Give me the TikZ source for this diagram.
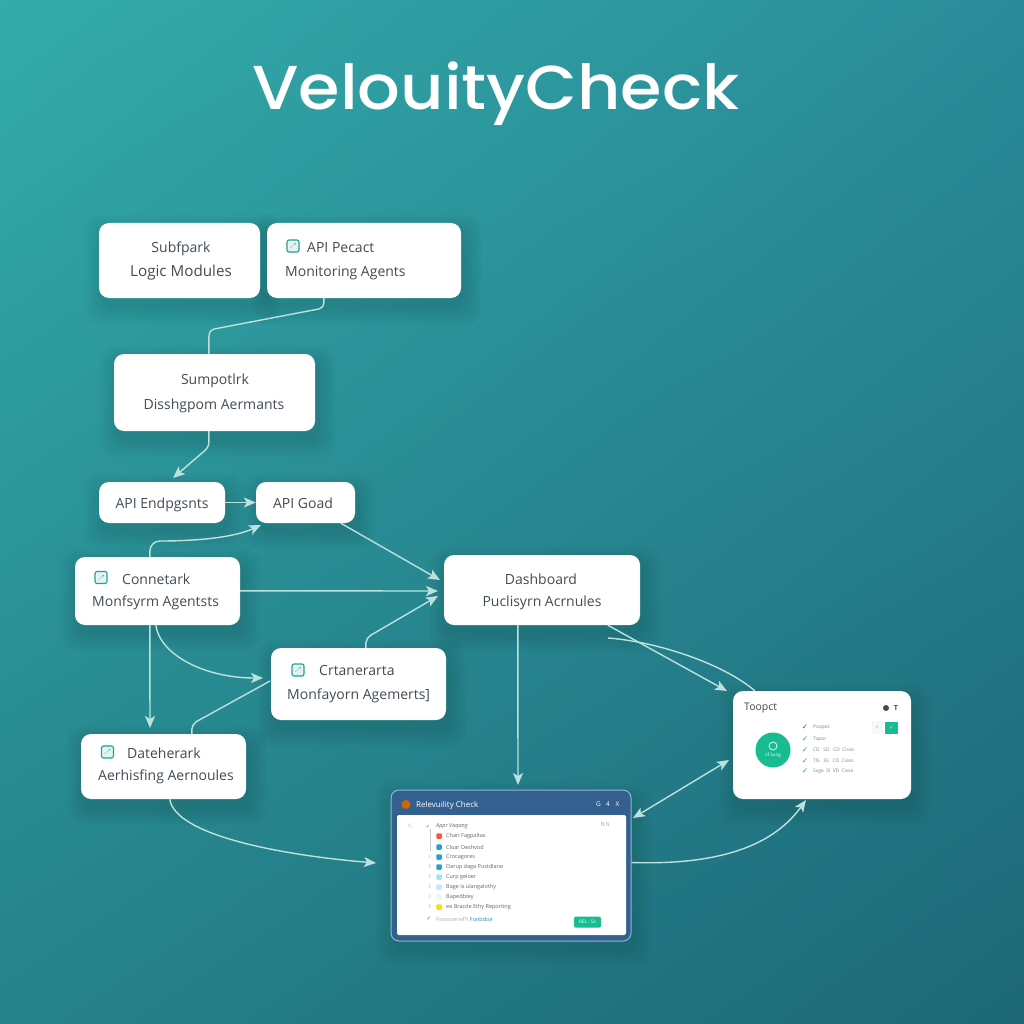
\documentclass[tikz,border=0pt]{standalone}
\usepackage{fontspec}
\setmainfont{Open Sans}
\newfontfamily\titlefont{Poppins}[UprightFont=* Medium]
\newfontfamily\dejavu{DejaVu Sans}
\newcommand{\ckm}{{\dejavu ✓}}
\usetikzlibrary{arrows.meta,calc,shadings}
\definecolor{linec}{HTML}{BDE2DE}
\definecolor{ink}{HTML}{414C56}
\definecolor{tealicon}{HTML}{22A096}
\definecolor{greenb}{HTML}{17BC90}
\definecolor{winblue}{HTML}{33608F}
\definecolor{winedge}{HTML}{8FB9CC}
\definecolor{bgul}{HTML}{33ABAA}
\definecolor{bgur}{HTML}{2A8C99}
\definecolor{bgll}{HTML}{25828B}
\definecolor{bglr}{HTML}{1D6777}
\tikzset{
  cardbox/.style={fill=white,rounded corners=10pt,inner sep=0pt},
  lbl/.style={text=ink,font=\fontsize{14}{16}\selectfont,inner sep=0pt,text height=10.5pt,text depth=3pt,yshift=-2pt},
  conn/.style={draw=linec,line width=1.4pt,rounded corners=5pt},
  arr/.style={conn,-{Stealth[length=12pt,width=10pt,inset=3pt]}},
  rowtxt/.style={text=ink!85,font=\fontsize{5.5}{6}\selectfont,inner sep=0pt,anchor=west},
  rowdot/.style={inner sep=0pt,minimum size=5.5pt,rounded corners=1.2pt},
  icobox/.style={draw=tealicon,fill=tealicon!12,line width=1.1pt,rounded corners=2pt,minimum size=12pt,inner sep=0pt,
    text=tealicon,font=\fontsize{6}{6}\selectfont}
}
\newcommand{\cardshadow}[4]{%
  \foreach \e in {16,13,10,7,4,1}{
    \fill[black!70!teal,opacity=0.024,rounded corners=14pt]
      (#1-\e+2,#2-\e+8) rectangle (#3+\e+4,#4+\e+10);
  }}
\newcommand{\mkcard}[5]{%
  \pgfmathsetmacro\cx{(#2+#4)/2}\pgfmathsetmacro\cy{(#3+#5)/2}
  \pgfmathsetmacro\cw{#4-#2}\pgfmathsetmacro\ch{#5-#3}
  \node[cardbox,minimum width=\cw pt,minimum height=\ch pt] (#1) at (\cx,\cy) {};}
\begin{document}
\begin{tikzpicture}[x=1pt,y=-1pt]
\useasboundingbox (0,0) rectangle (1024,1024);
\shade[upper left=bgul,upper right=bgur,lower left=bgll,lower right=bglr] (0,0) rectangle (1024,1024);
\node[text=white,font=\titlefont\fontsize{62}{64}\selectfont,inner sep=0pt,transform shape,xscale=1.08,anchor=base] (title) at (496,110) {VelouityCheck};

% shadows
\cardshadow{99}{223}{260}{298}
\cardshadow{267}{223}{461}{298}
\cardshadow{114}{354}{315}{431}
\cardshadow{99}{482}{225}{523}
\cardshadow{256}{482}{355}{523}
\cardshadow{75}{557}{240}{625}
\cardshadow{271}{648}{446}{720}
\cardshadow{81}{734}{246}{799}
\cardshadow{444}{555}{640}{625}
\cardshadow{733}{691}{911}{799}
\cardshadow{391}{790}{631}{940}

% cards
\mkcard{sub}{99}{223}{260}{298}
\mkcard{api}{267}{223}{461}{298}
\mkcard{sum}{114}{354}{315}{431}
\mkcard{end}{99}{482}{225}{523}
\mkcard{goad}{256}{482}{355}{523}
\mkcard{con}{75}{557}{240}{625}
\mkcard{cra}{271}{648}{446}{720}
\mkcard{dat}{81}{734}{246}{799}
\mkcard{das}{444}{555}{640}{625}
\mkcard{top}{733}{691}{911}{799}
\node[fill=winblue,draw=winedge,line width=1pt,rounded corners=8pt,minimum width=240pt,minimum height=151pt,inner sep=0pt] (win) at (511,865.5) {};
\node[fill=white,rounded corners=2pt,minimum width=229pt,minimum height=120pt,inner sep=0pt] (winbody) at (511.5,875) {};

% connectors
\draw[conn] ([xshift=57pt]api.south west) -- (324,308) -- (209,330) -- ([xshift=95pt]sum.north west);
\draw[arr] ([xshift=95pt]sum.south west) -- (209,447) -- (173,478);
\draw[arr] (end.east) -- (goad.west);
\draw[arr,rounded corners=10pt] ([xshift=75pt]con.north west) -- (150,541) .. controls (200,541) and (235,537) .. (261,525);
\draw[arr] ([xshift=85pt]goad.south west) -- (440,580);
\draw[arr] ([yshift=-34pt]con.north east) -- (438,591);
\draw[arr] ([xshift=95pt]cra.north west) -- (366,638) -- (438,596);
\draw[arr] ([xshift=75pt]con.south west) -- (150,728);
\draw[arr] ([xshift=81pt]con.south west) .. controls (160,655) and (205,678) .. (263,678);
\draw[conn] ([xshift=111pt]dat.north west) -- (192,724) -- (270,681);
\draw[arr] ([xshift=89pt]dat.south west) .. controls (175,835) and (280,855) .. (376,863);
\draw[arr] ([xshift=74pt]das.south west) -- (518,785);
\draw[arr] ([xshift=164pt]das.south west) -- (727,691);
\draw[conn] (608,638) .. controls (660,642) and (725,665) .. ([xshift=22pt]top.north west);
\draw[conn,{Stealth[length=12pt,width=10pt,inset=3pt]}-{Stealth[length=12pt,width=10pt,inset=3pt]}] (633,818) -- (729,760);
\draw[arr] ([yshift=-73pt]win.north east) .. controls (710,865) and (770,850) .. (806,800);

% card labels
\node[lbl] (t1a) at (181,247) {Subfpark};
\node[lbl,font=\fontsize{15.2}{16}\selectfont] (t1b) at (181,271) {Logic Modules};
\node[icobox] (i2) at (293,246) {$\nearrow$};
\node[lbl,anchor=west] (t2a) at (307,247) {API Pecact};
\node[lbl,anchor=west] (t2b) at (285,271) {Monitoring Agents};
\node[lbl] (t3a) at (215,379) {Sumpotlrk};
\node[lbl] (t3b) at (214,404) {Disshgpom Aermants};
\node[lbl] (t4) at (162,503) {API Endpgsnts};
\node[lbl] (t5) at (303,503) {API Goad};
\node[icobox] (i6) at (101,577.5) {$\nearrow$};
\node[lbl,anchor=west] (t6a) at (122,579) {Connetark};
\node[lbl,anchor=west] (t6b) at (92,601) {Monfsyrm Agentsts};
\node[icobox] (i7) at (298,670) {$\nearrow$};
\node[lbl,anchor=west] (t7a) at (319,670) {Crtanerarta};
\node[lbl,anchor=west] (t7b) at (287,694) {Monfayorn Agemerts]};
\node[icobox] (i8) at (107.5,752) {$\nearrow$};
\node[lbl,anchor=west] (t8a) at (127,753) {Dateherark};
\node[lbl,anchor=west] (t8b) at (98,775) {Aerhisfing Aernoules};
\node[lbl] (t9a) at (541,579) {Dashboard};
\node[lbl] (t9b) at (542,601) {Puclisyrn Acrnules};

% status panel
\node[text=ink,font=\fontsize{10.5}{11}\selectfont,inner sep=0pt,anchor=west] (tt) at (744,708) {Toopct};
\node[circle,fill=ink,minimum size=6pt,inner sep=0pt] (tc1) at (886,708) {};
\node[text=ink,font=\fontsize{7}{7}\selectfont\bfseries,inner sep=0pt] (tc2) at (896,708) {T};
\node[circle,fill=greenb,minimum size=35pt,inner sep=0pt] (tg) at (773,750) {};
\node[circle,draw=white,line width=.7pt,minimum size=8pt,inner sep=0pt] (tgi) at (773,746) {};
\node[text=white,font=\fontsize{4.5}{5}\selectfont,inner sep=0pt] (tgt) at (773,755) {vf.Sung};
\node[draw=ink!15,fill=ink!4,rounded corners=1pt,minimum width=11pt,minimum height=11pt,inner sep=0pt,text=ink!50,font=\fontsize{4}{4}\selectfont] (tb1) at (877.5,727.5) {E};
\node[fill=greenb,minimum width=13pt,minimum height=12pt,inner sep=0pt,text=white,font=\fontsize{5}{5}\selectfont] (tb2) at (891.5,727.5) {\ckm};
\foreach \yy/\rowt/\rowc in {727/Poopot/ink,739/Topor/tealicon,750/CD\ \ \ SD\ \ \ CD\ \ Cisso/tealicon,761/TIS\ \ \ SS\ \ \ CD\ \ Cisso/tealicon,771/Sxgo\ \ SI\ \ VD\ \ Cisso/tealicon}{
  \node[text=\rowc,font=\fontsize{7.5}{7.5}\selectfont,inner sep=0pt] at (805,\yy) {\ckm};
  \node[rowtxt,text=ink!70,font=\fontsize{4.8}{5}\selectfont] at (813,\yy) {\rowt};
}

% window
\node[circle,fill=orange!80!black,minimum size=9pt,inner sep=0pt] (wi) at (406,804.5) {};
\node[anchor=west,text=white,font=\fontsize{8}{8}\selectfont,inner sep=0pt] (wt) at (416,805) {Relevuility Check};
\node[text=white,font=\fontsize{6.5}{7}\selectfont,inner sep=0pt] (wc1) at (598.5,804) {G};
\node[text=white,font=\fontsize{6.5}{7}\selectfont,inner sep=0pt] (wc2) at (608,804) {4};
\node[text=white,font=\fontsize{6.5}{7}\selectfont,inner sep=0pt] (wc3) at (617.5,804) {X};
\node[text=ink!50,font=\fontsize{6}{7}\selectfont,inner sep=0pt] (wb) at (410,826) {$<$};
\node[rowtxt,text=ink!50] (wr) at (598,825) {\ \ B\,N};
\node[rowtxt,font=\fontsize{5.5}{6}\selectfont\itshape] (wh) at (436,826) {Appr Vaqang};
\node[text=winblue,font=\fontsize{5}{5}\selectfont,inner sep=0pt] (wa) at (428,826.5) {\ckm};
\draw[draw=ink!30,line width=.5pt] (wa.south) ++(2,1) -- ++(0,22);
\foreach \yy/\rowc/\rowt in {836/red!70!orange!80/Chari\ Fagpaltas,847/cyan!70!teal/Cloar\ Deshvod,857/cyan!70!teal/Crocagores,867/cyan!70!teal/Darup\ daga\ Pustdlane,877/cyan!35/Curp\ geloer,887/cyan!25/Bage\ Is\ ulangalothy,897/cyan!8/Bapedbtey,907/yellow!80!orange/ee\ Bracde\ Ethy\ Reporting}{
  \node[rowdot,fill=\rowc] at (439,\yy) {};
  \node[rowtxt] at (446,\yy) {\rowt};
}
\foreach \yy in {857,867,877,887,897,907}{
  \node[text=ink!40,font=\fontsize{5}{6}\selectfont,inner sep=0pt] at (429.5,\yy) {3};
}
\node[text=winblue!70!cyan,font=\fontsize{6}{6}\selectfont,inner sep=0pt] (wk) at (429,919) {\ckm};
\node[rowtxt,text=ink!45] (wf) at (436,919) {Fosasserwf?i\ \textcolor{winblue!70!cyan}{Fonbdoe}};
\node[fill=greenb,rounded corners=1.5pt,minimum width=27pt,minimum height=11pt,inner sep=0pt,text=white,font=\fontsize{4.8}{5}\selectfont] (wg) at (587.5,922) {REL : 5s};
\end{tikzpicture}
\end{document}
